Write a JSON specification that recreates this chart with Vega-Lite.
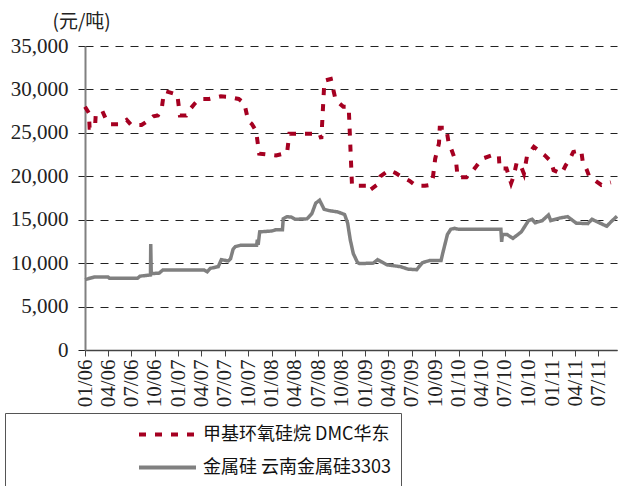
{
  "$schema": "https://vega.github.io/schema/vega-lite/v6.json",
  "width": 532,
  "height": 304,
  "autosize": "none",
  "padding": {"left": 85, "top": 46, "right": 10, "bottom": 136},
  "background": "white",
  "config": {"view": {"stroke": null}, "font": "Liberation Sans Narrow"},
  "datasets": {
    "dmc": [
      {"date": "2006-01-01", "value": 28000}, {"date": "2006-01-16", "value": 27300}, {"date": "2006-01-19", "value": 25600},
      {"date": "2006-02-09", "value": 25600}, {"date": "2006-02-12", "value": 27100}, {"date": "2006-03-10", "value": 27500},
      {"date": "2006-03-22", "value": 26700}, {"date": "2006-04-10", "value": 26000}, {"date": "2006-05-19", "value": 26000},
      {"date": "2006-06-13", "value": 26500}, {"date": "2006-07-01", "value": 25900}, {"date": "2006-08-10", "value": 25900},
      {"date": "2006-09-10", "value": 26500}, {"date": "2006-09-25", "value": 26900}, {"date": "2006-10-13", "value": 27000},
      {"date": "2006-10-28", "value": 27800}, {"date": "2006-11-04", "value": 29300}, {"date": "2006-11-13", "value": 29800},
      {"date": "2006-12-28", "value": 29400}, {"date": "2007-01-07", "value": 27000}, {"date": "2007-02-01", "value": 27000},
      {"date": "2007-02-18", "value": 27800}, {"date": "2007-03-07", "value": 28400}, {"date": "2007-03-25", "value": 28900},
      {"date": "2007-05-01", "value": 28900}, {"date": "2007-06-16", "value": 29200}, {"date": "2007-07-15", "value": 29150},
      {"date": "2007-08-25", "value": 28900}, {"date": "2007-09-16", "value": 28400}, {"date": "2007-10-01", "value": 26400},
      {"date": "2007-10-16", "value": 26000}, {"date": "2007-11-01", "value": 25200}, {"date": "2007-11-13", "value": 22600},
      {"date": "2008-01-18", "value": 22400}, {"date": "2008-03-01", "value": 22700}, {"date": "2008-03-10", "value": 24900},
      {"date": "2008-07-06", "value": 24900}, {"date": "2008-07-13", "value": 24300}, {"date": "2008-07-25", "value": 31000},
      {"date": "2008-08-19", "value": 31200}, {"date": "2008-09-07", "value": 28800}, {"date": "2008-10-07", "value": 28000},
      {"date": "2008-10-28", "value": 28000}, {"date": "2008-11-10", "value": 18900}, {"date": "2008-12-01", "value": 18900},
      {"date": "2009-01-04", "value": 18900}, {"date": "2009-01-13", "value": 18300}, {"date": "2009-02-15", "value": 19000},
      {"date": "2009-03-01", "value": 20000}, {"date": "2009-04-04", "value": 20700}, {"date": "2009-04-28", "value": 20400},
      {"date": "2009-05-22", "value": 19950}, {"date": "2009-06-22", "value": 19500}, {"date": "2009-07-19", "value": 18900},
      {"date": "2009-08-22", "value": 18900}, {"date": "2009-09-10", "value": 19000}, {"date": "2009-09-22", "value": 19800},
      {"date": "2009-10-01", "value": 22000}, {"date": "2009-10-16", "value": 23800}, {"date": "2009-10-19", "value": 25600},
      {"date": "2009-11-13", "value": 25600}, {"date": "2009-11-22", "value": 24000}, {"date": "2009-12-01", "value": 23300},
      {"date": "2009-12-22", "value": 21600}, {"date": "2009-12-28", "value": 19900}, {"date": "2010-02-01", "value": 19900},
      {"date": "2010-02-19", "value": 20400}, {"date": "2010-03-07", "value": 21000}, {"date": "2010-04-01", "value": 22000},
      {"date": "2010-05-10", "value": 22400}, {"date": "2010-06-07", "value": 22400}, {"date": "2010-06-10", "value": 20900},
      {"date": "2010-07-07", "value": 20900}, {"date": "2010-07-25", "value": 19200}, {"date": "2010-08-04", "value": 20000},
      {"date": "2010-08-16", "value": 21600}, {"date": "2010-09-01", "value": 21200}, {"date": "2010-09-13", "value": 20300},
      {"date": "2010-09-25", "value": 22300}, {"date": "2010-10-22", "value": 23400}, {"date": "2010-11-13", "value": 22900},
      {"date": "2010-12-04", "value": 22400}, {"date": "2010-12-28", "value": 21700}, {"date": "2011-01-07", "value": 20700},
      {"date": "2011-02-07", "value": 20300}, {"date": "2011-02-24", "value": 21300}, {"date": "2011-03-10", "value": 21900},
      {"date": "2011-03-25", "value": 22800}, {"date": "2011-04-25", "value": 23000}, {"date": "2011-05-01", "value": 21700},
      {"date": "2011-05-16", "value": 20800}, {"date": "2011-05-25", "value": 20100}, {"date": "2011-06-19", "value": 19500},
      {"date": "2011-07-13", "value": 19000}, {"date": "2011-08-07", "value": 19200}, {"date": "2011-08-19", "value": 19300}
    ],
    "si": [
      {"date": "2006-01-01", "value": 8100}, {"date": "2006-01-13", "value": 8200}, {"date": "2006-02-06", "value": 8400},
      {"date": "2006-04-01", "value": 8400}, {"date": "2006-04-07", "value": 8250}, {"date": "2006-07-25", "value": 8250},
      {"date": "2006-08-04", "value": 8500}, {"date": "2006-09-01", "value": 8600}, {"date": "2006-09-14", "value": 8650},
      {"date": "2006-09-15", "value": 12200}, {"date": "2006-09-17", "value": 8800}, {"date": "2006-10-18", "value": 8850},
      {"date": "2006-11-01", "value": 9200}, {"date": "2007-04-12", "value": 9200}, {"date": "2007-04-24", "value": 9000},
      {"date": "2007-05-06", "value": 9400}, {"date": "2007-06-06", "value": 9600}, {"date": "2007-06-18", "value": 10400},
      {"date": "2007-07-15", "value": 10250}, {"date": "2007-07-24", "value": 10500}, {"date": "2007-08-03", "value": 11600},
      {"date": "2007-08-12", "value": 11900}, {"date": "2007-09-01", "value": 12050}, {"date": "2007-11-03", "value": 12050},
      {"date": "2007-11-06", "value": 12700}, {"date": "2007-11-09", "value": 12100}, {"date": "2007-11-15", "value": 13600},
      {"date": "2008-01-01", "value": 13700}, {"date": "2008-01-18", "value": 13850}, {"date": "2008-02-12", "value": 13850},
      {"date": "2008-02-15", "value": 15100}, {"date": "2008-03-01", "value": 15350}, {"date": "2008-03-18", "value": 15300},
      {"date": "2008-04-01", "value": 15050}, {"date": "2008-05-18", "value": 15100}, {"date": "2008-06-06", "value": 15700},
      {"date": "2008-06-21", "value": 16900}, {"date": "2008-07-06", "value": 17250}, {"date": "2008-07-24", "value": 16200},
      {"date": "2008-08-12", "value": 16050}, {"date": "2008-09-15", "value": 15900}, {"date": "2008-10-12", "value": 15600},
      {"date": "2008-10-24", "value": 14600}, {"date": "2008-11-03", "value": 12700}, {"date": "2008-11-15", "value": 11100},
      {"date": "2008-12-01", "value": 10100}, {"date": "2008-12-09", "value": 9950}, {"date": "2009-02-01", "value": 10000},
      {"date": "2009-02-18", "value": 10400}, {"date": "2009-02-27", "value": 10250}, {"date": "2009-03-27", "value": 9800},
      {"date": "2009-05-18", "value": 9600}, {"date": "2009-06-18", "value": 9300}, {"date": "2009-07-21", "value": 9250},
      {"date": "2009-08-12", "value": 10050}, {"date": "2009-09-09", "value": 10300}, {"date": "2009-10-24", "value": 10300},
      {"date": "2009-11-01", "value": 11300}, {"date": "2009-11-18", "value": 13300}, {"date": "2009-12-01", "value": 13900},
      {"date": "2009-12-15", "value": 14000}, {"date": "2010-01-01", "value": 13900}, {"date": "2010-06-15", "value": 13900},
      {"date": "2010-06-18", "value": 12450}, {"date": "2010-06-21", "value": 13300}, {"date": "2010-07-09", "value": 13300},
      {"date": "2010-08-01", "value": 12850}, {"date": "2010-09-03", "value": 13600}, {"date": "2010-10-01", "value": 14900},
      {"date": "2010-10-15", "value": 15050}, {"date": "2010-10-27", "value": 14650}, {"date": "2010-11-24", "value": 14900},
      {"date": "2010-12-18", "value": 15550}, {"date": "2010-12-27", "value": 14900}, {"date": "2011-02-01", "value": 15200},
      {"date": "2011-03-03", "value": 15350}, {"date": "2011-04-06", "value": 14600}, {"date": "2011-05-21", "value": 14550},
      {"date": "2011-06-06", "value": 15050}, {"date": "2011-07-01", "value": 14700}, {"date": "2011-08-03", "value": 14250},
      {"date": "2011-08-21", "value": 14800}, {"date": "2011-09-12", "value": 15400}
    ]
  },
  "layer": [
    {
      "data": {"name": "dmc"},
      "transform": [{"calculate": "'甲基环氧硅烷 DMC华东'", "as": "series"}],
      "mark": {"type": "line", "strokeWidth": 4, "strokeDash": [7, 9]},
      "encoding": {
        "x": {"field": "date", "type": "temporal"},
        "y": {"field": "value", "type": "quantitative"},
        "color": {"field": "series", "type": "nominal"},
        "strokeDash": {"field": "series", "type": "nominal"}
      }
    },
    {
      "data": {"name": "si"},
      "transform": [{"calculate": "'金属硅 云南金属硅3303'", "as": "series"}],
      "mark": {"type": "line", "strokeWidth": 3.5},
      "encoding": {
        "x": {"field": "date", "type": "temporal"},
        "y": {"field": "value", "type": "quantitative"},
        "color": {"field": "series", "type": "nominal"},
        "strokeDash": {"field": "series", "type": "nominal"}
      }
    }
  ],
  "encoding": {
    "x": {
      "field": "date", "type": "temporal",
      "scale": {"domain": [{"year": 2006, "month": 1, "date": 1}, {"year": 2011, "month": 9, "date": 12}]},
      "axis": {
        "title": null, "format": "%m/%y", "tickCount": {"interval": "month", "step": 3},
        "labelAngle": -90, "labelFontSize": 21, "labelColor": "#222", "labelPadding": 3,
        "labelFlush": false, "labelOverlap": false, "grid": false,
        "domainColor": "#444", "domainWidth": 1.5, "tickColor": "#444", "tickSize": 6
      }
    },
    "y": {
      "field": "value", "type": "quantitative",
      "scale": {"domain": [0, 35000]},
      "axis": {
        "values": [0, 5000, 10000, 15000, 20000, 25000, 30000, 35000], "format": ",d",
        "labelFontSize": 21, "labelColor": "#222", "labelPadding": 10,
        "grid": true, "gridDash": [8, 7], "gridColor": "#222", "gridWidth": 1,
        "domainColor": "#808080", "domainWidth": 2, "tickColor": "#222", "tickSize": 7,
        "title": "(元/吨)", "titleAngle": 0, "titleAlign": "left", "titleBaseline": "alphabetic",
        "titleX": -33, "titleY": -19, "titleFont": "Noto Sans CJK SC", "titleFontSize": 19,
        "titleFontWeight": "normal", "titleColor": "#222"
      }
    },
    "color": {
      "field": "series", "type": "nominal",
      "scale": {"domain": ["甲基环氧硅烷 DMC华东", "金属硅 云南金属硅3303"], "range": ["#A50021", "#808080"]},
      "legend": {
        "title": null, "orient": "none", "legendX": -80, "legendY": 367, "padding": 10,
        "strokeColor": "#555", "fillColor": "white", "symbolType": "M-3,0H3", "symbolSize": 361,
        "symbolStrokeWidth": 4, "symbolOffset": 141, "labelOffset": 24, "labelFont": "Noto Sans CJK SC",
        "labelFontSize": 18, "labelColor": "#111", "labelLimit": 800, "rowPadding": 12,
        "labelExpr": "datum.label + '\u3000\u3000\u3000\u3000\u3000\u3000\u3000\u3000\u3000\u3000\u3000\u3000\u3000\u3000\u3000\u3000\u3000\u3000\u3000\u3000\u3000'"
      }
    },
    "strokeDash": {
      "field": "series", "type": "nominal",
      "scale": {"domain": ["甲基环氧硅烷 DMC华东", "金属硅 云南金属硅3303"], "range": [[7, 9], [1, 0]]},
      "legend": {
        "title": null, "orient": "none", "legendX": -80, "legendY": 367, "padding": 10,
        "strokeColor": "#555", "fillColor": "white", "symbolType": "M-3,0H3", "symbolSize": 361,
        "symbolStrokeWidth": 4, "symbolOffset": 141, "labelOffset": 24, "labelFont": "Noto Sans CJK SC",
        "labelFontSize": 18, "labelColor": "#111", "labelLimit": 800, "rowPadding": 12,
        "labelExpr": "datum.label + '\u3000\u3000\u3000\u3000\u3000\u3000\u3000\u3000\u3000\u3000\u3000\u3000\u3000\u3000\u3000\u3000\u3000\u3000\u3000\u3000\u3000'"
      }
    }
  }
}
